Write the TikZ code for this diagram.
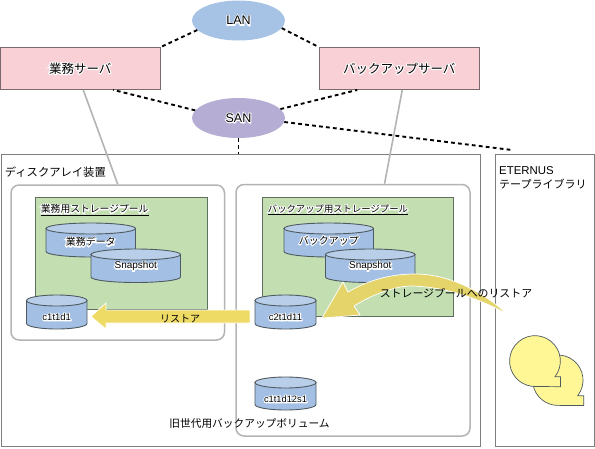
\documentclass[tikz,border=0pt]{standalone}
\usetikzlibrary{shapes.geometric}
\usepackage{fontspec}
\setmainfont{Liberation Sans}
\newfontfamily\jpfont{Noto Sans CJK JP}
\newcommand\jp[1]{{\jpfont #1}}
\newcommand\fs[1]{\fontsize{#1}{#1}\selectfont}
\newcommand\halo[1]{\leavevmode\rlap{\special{pdf:code 2 Tr 1 1 1 RG 1 1 1 rg 2 w}#1\special{pdf:code 0 Tr 0 0 0 RG 0 0 0 rg 0.4 w}}#1}
\definecolor{srvfill}{HTML}{F8D0D6}
\definecolor{srvline}{HTML}{7A6A70}
\definecolor{lanfill}{HTML}{A6C2E4}
\definecolor{sanfill}{HTML}{B5ADD3}
\definecolor{gline}{HTML}{B4B4B4}
\definecolor{poolfill}{HTML}{C3DFB2}
\definecolor{poolline}{HTML}{5F6F5F}
\definecolor{cylbody}{HTML}{A3C0E4}
\definecolor{cyltop}{HTML}{B9CFE9}
\definecolor{cylline}{HTML}{4F5A60}
\definecolor{arrowa}{HTML}{EEDB66}
\definecolor{arrowb}{HTML}{E4D46A}
\definecolor{bubble}{HTML}{FFF795}
\tikzset{
  netcloud/.style={ellipse,minimum width=93pt,minimum height=40pt,inner sep=0pt,draw=none},
  server/.style={rectangle,draw=srvline,fill=srvfill,line width=.8pt,minimum width=160pt,minimum height=42pt,inner sep=0pt,font=\fs{12.5}},
  dsh/.style={line width=1.9pt,dash pattern=on 3.8pt off 3.2pt},
  glink/.style={draw=gline,line width=1.6pt},
  frame/.style={rectangle,draw=gline!70!black,fill=white,line width=.9pt,inner sep=0pt},
  poolbox/.style={rectangle,rounded corners=8pt,draw=gline,fill=white,line width=1.5pt,inner sep=0pt},
  greenbox/.style={rectangle,draw=poolline,fill=poolfill,line width=.7pt,inner sep=0pt},
  cylshape/.style={draw=cylline,line width=.9pt},
  lbl/.style={inner sep=0pt,anchor=center},
  lft/.style={inner sep=0pt,anchor=west},
  bigarrow/.style={draw=white,line width=.7pt},
}
% name, x1, x2, ytop, ybottom, label y, label size, label
\newcommand\cyl[8]{%
  \pgfmathsetmacro\cx{(#2+#3)/2}\pgfmathsetmacro\ca{(#3-#2)/2}%
  \pgfmathsetmacro\ct{#4+5.5}\pgfmathsetmacro\cb{#5-5.5}%
  \path[cylshape,fill=cylbody] (#2,\ct) -- (#2,\cb) arc[start angle=180,end angle=0,x radius=\ca,y radius=5.5] -- (#3,\ct) -- cycle;
  \path[cylshape,fill=cyltop] (\cx,\ct) ellipse[x radius=\ca,y radius=5.5];
  \node[lbl,font=\fs{#7}] (#1) at (\cx,#6) {\halo{#8}};
}
\begin{document}
\begin{tikzpicture}[x=1pt,y=-1pt]
\useasboundingbox (0,0) rectangle (595,448);
\fill[white] (0,0) rectangle (595,448);
% frames
\node[frame,minimum width=478.5pt,minimum height=292pt] (arr) at (240.75,300) {};
\node[frame,minimum width=99pt,minimum height=292pt] (tape) at (544.5,300) {};
\node[poolbox,minimum width=213.5pt,minimum height=155pt] (poolA) at (117.75,262.5) {};
\node[poolbox,minimum width=234pt,minimum height=251.5pt] (poolB) at (353,310.25) {};
\node[greenbox,minimum width=172pt,minimum height=111.5pt] (greenA) at (121.5,253.25) {};
\node[greenbox,minimum width=191pt,minimum height=119pt] (greenB) at (358,257) {};
% nodes on top
\node[netcloud,fill=lanfill,font=\fs{12.5}] (lan) at (238.5,20.5) {\halo{LAN}};
\node[netcloud,fill=sanfill,font=\fs{12.5}] (san) at (238.5,118) {\halo{SAN}};
\node[server] (srvA) at (80.25,68.5) {\halo{\jp{業務サーバ}}};
\node[server] (srvB) at (399.25,68.5) {\halo{\jp{バックアップサーバ}}};
\coordinate (tapeend) at (512,150);
% connectors
\draw[dsh] (lan.193) -- (srvA.north east);
\draw[dsh] (lan.-10) -- (srvB.north west);
\draw[dsh] (san.170) -- (srvA.-33);
\draw[dsh] (san.12) -- (srvB.207);
\draw[dsh] (san.-5) -- (tapeend);
\draw[dsh] (san.south) -- (san.south |- arr.north);
\draw[glink] (srvA.-82) -- (poolA.north);
\draw[glink] (srvB.-82) -- (poolB.76);
% labels
\node[lft,font=\fs{11.3}] (arrlabel) at (4.7,172) {\jp{ディスクアレイ装置}};
\node[lft,font=\fs{11.4}] (tapelabel1) at (499,170.5) {ETERNUS};
\node[lft,font=\fs{11}] (tapelabel2) at (499,184) {\jp{テープライブラリ}};
\node[lft,font=\fs{9.8}] (poolAlabel) at (40.7,210) {\halo{\underline{\jp{業務用ストレージプール}}}};
\node[lft,font=\fs{9.35}] (poolBlabel) at (267.7,210) {\halo{\underline{\jp{バックアップ用ストレージプール}}}};
% cylinders
\cyl{dataA}{46}{135.5}{223}{257}{242}{10}{\jp{業務データ}}
\cyl{snapA}{91}{180.5}{249}{282.5}{266.3}{10}{Snapshot}
\cyl{lunA}{26.5}{87}{295}{329}{317}{9.5}{c1t1d1}
\cyl{dataB}{284}{373.5}{223}{257}{240.5}{10}{\jp{バックアップ}}
\cyl{snapB}{325.5}{415}{249}{282.5}{266.3}{10}{Snapshot}
\cyl{lunB}{255}{316}{295}{329}{317}{9.5}{c2t1d11}
\cyl{lunC}{255}{316}{377}{410}{399}{9.3}{c1t1d12s1}
% arrows
\path[bigarrow,fill=arrowa] (91,316.5) -- (106,303) -- (106,310) -- (250,310) -- (250,323) -- (106,323) -- (106,329) -- cycle;
\path[bigarrow,fill=arrowb] (322,318) -- (343,282) -- (348,292) .. controls (372,278) and (395,274) .. (415,274) .. controls (450,274) and (485,293) .. (507,314) .. controls (480,299) and (447,287) .. (412,286) .. controls (393,286) and (370,296) .. (354,306) -- (360,315) -- cycle;
\node[lbl,font=\fs{10}] (restoreA) at (180,319) {\jp{リストア}};
\node[lbl,font=\fs{10.9}] (restoreB) at (456,293) {\jp{ストレージプールへのリストア}};
\node[lbl,font=\fs{10.7}] (oldlabel) at (249.5,423) {\jp{旧世代用バックアップボリューム}};
% bubbles
\path[draw=cylline,fill=bubble,line width=.7pt] (577.7,395.7) arc[start angle=38,end angle=-270,radius=25.2] -- (583.7,405.5) -- (583.7,395.7) -- cycle;
\path[draw=cylline,fill=bubble,line width=.7pt] (555,376.7) arc[start angle=38,end angle=-270,radius=25.4] -- (560.5,386.7) -- (560.5,376.7) -- cycle;
\end{tikzpicture}
\end{document}
